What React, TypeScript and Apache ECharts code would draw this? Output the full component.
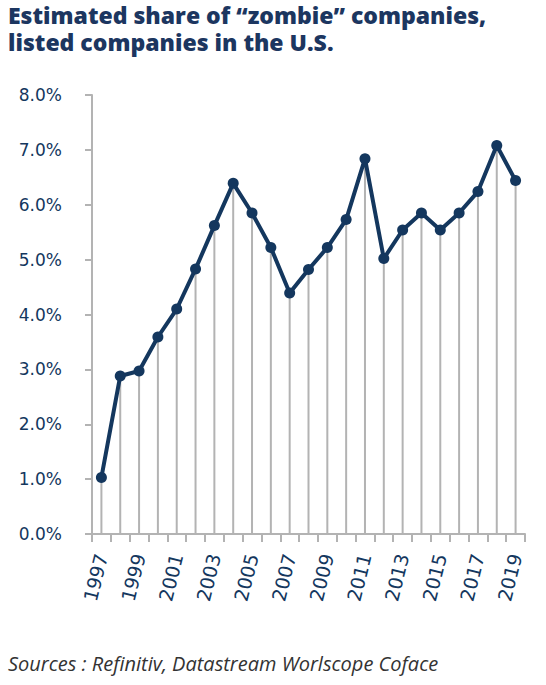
import React, { useEffect, useRef } from "react";
import * as echarts from "echarts";

const years = [
  "1997", "1998", "1999", "2000", "2001", "2002", "2003", "2004", "2005", "2006", "2007", "2008",
  "2009", "2010", "2011", "2012", "2013", "2014", "2015", "2016", "2017", "2018", "2019",
];
const zombieShare = [
  1.03, 2.88, 2.97, 3.59, 4.1, 4.83, 5.62, 6.39, 5.85, 5.22, 4.39, 4.82,
  5.22, 5.73, 6.84, 5.02, 5.54, 5.85, 5.54, 5.85, 6.24, 7.08, 6.44,
];
const yTicks = [0, 1, 2, 3, 4, 5, 6, 7, 8];
const titleLines = ["Estimated share of \u201czombie\u201d companies,", "listed companies in the U.S."];
const sourceText = "Sources : Refinitiv, Datastream Worlscope Coface";

const NAVY = "#14375e";
const GRAY = "#b3b3b3";
const LABEL_FONT = "DejaVu Sans";

export default function App() {
  const ref = useRef<HTMLDivElement>(null);
  useEffect(() => {
    if (!ref.current) return;
    const chart = echarts.init(ref.current, undefined, { renderer: "svg" });
    chart.setOption({
      animation: false,
      backgroundColor: "#ffffff",
      graphic: [
        {
          type: "text",
          left: 8,
          top: 1,
          style: {
            text: titleLines.join("\n"),
            fontFamily: "Open Sans",
            fontWeight: 800,
            fontSize: 23,
            lineHeight: 27,
            fill: "#1c3660",
          },
        },
        {
          type: "text",
          left: 8,
          top: 653,
          style: {
            text: sourceText,
            fontFamily: "Open Sans",
            fontStyle: "italic",
            fontSize: 20,
            fill: "#333333",
          },
        },
      ],
      grid: { left: 92, right: 21, top: 95, bottom: 151, containLabel: false },
      xAxis: {
        type: "category",
        data: years,
        boundaryGap: true,
        axisLine: { lineStyle: { color: GRAY, width: 2 } },
        axisTick: { show: true, interval: 0, length: 8, lineStyle: { color: GRAY, width: 2 } },
        axisLabel: {
          interval: 1,
          rotate: 76,
          margin: 20,
          fontFamily: LABEL_FONT,
          fontSize: 19,
          color: NAVY,
        },
      },
      yAxis: {
        type: "value",
        min: yTicks[0],
        max: yTicks[yTicks.length - 1],
        interval: 1,
        splitLine: { show: false },
        axisLine: { show: true, lineStyle: { color: GRAY, width: 2 } },
        axisTick: { show: true, length: 7, lineStyle: { color: GRAY, width: 2 } },
        axisLabel: {
          margin: 30,
          fontFamily: LABEL_FONT,
          fontSize: 17,
          color: NAVY,
          formatter: (v: number) => v.toFixed(1) + "%",
        },
      },
      series: [
        {
          type: "bar",
          data: zombieShare,
          barWidth: 2,
          itemStyle: { color: GRAY },
          silent: true,
          z: 1,
        },
        {
          type: "line",
          data: zombieShare,
          symbol: "circle",
          symbolSize: 11,
          lineStyle: { color: NAVY, width: 4 },
          itemStyle: { color: NAVY },
          z: 3,
        },
      ],
    });
    return () => chart.dispose();
  }, []);
  return (
    <div
      ref={ref}
      style={{ position: "absolute", left: 0, top: 0, width: 546, height: 685 }}
    />
  );
}
